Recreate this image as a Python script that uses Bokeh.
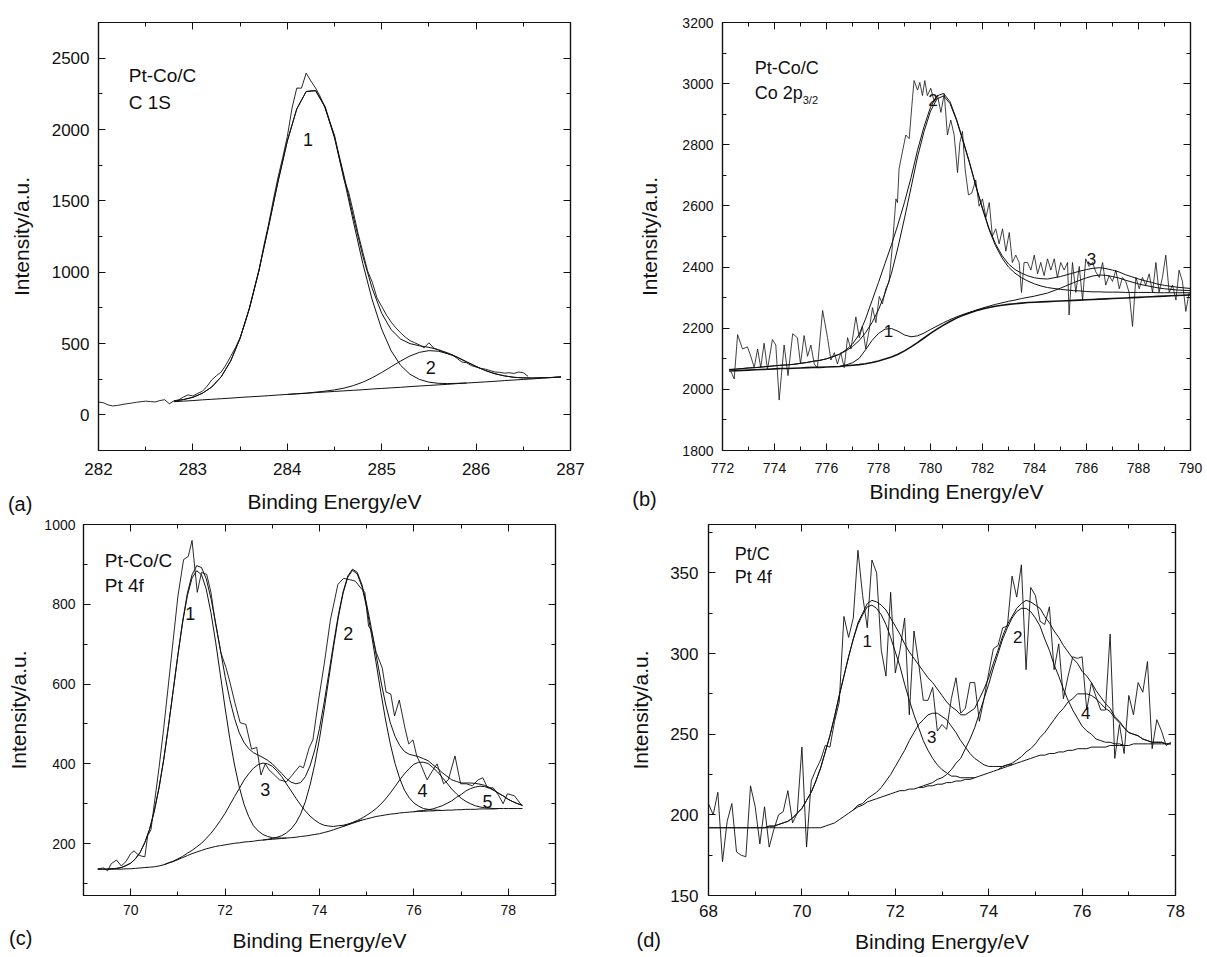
from bokeh.plotting import figure
from bokeh.models import LinearAxis, SingleIntervalTicker, Range1d, Label, CustomJSTickFormatter
from bokeh.layouts import row, column
from bokeh.embed import file_html
from bokeh.resources import INLINE

FONT = "Liberation Sans"
INK = "#111111"

# ---------------- (a) Pt-Co/C, C 1S ----------------
xa = [282.8, 282.9, 283.0, 283.1, 283.2, 283.3, 283.4, 283.5, 283.6, 283.7,
      283.8, 283.9, 284.0, 284.1, 284.2, 284.3, 284.4, 284.5, 284.6, 284.7,
      284.8, 284.9, 285.0, 285.1, 285.2, 285.3, 285.4, 285.5, 285.6, 285.7,
      285.8, 285.9, 286.0, 286.1, 286.2, 286.3, 286.4, 286.5, 286.6, 286.7,
      286.8, 286.9]
bg_a = [92, 96, 100, 105, 109, 113, 117, 122, 126, 130,
        134, 139, 143, 147, 151, 156, 160, 164, 168, 172,
        176, 181, 185, 189, 193, 198, 202, 206, 210, 214,
        219, 223, 227, 231, 235, 240, 244, 248, 252, 257,
        261, 265]
pk1_a = [5, 11, 23, 46, 86, 154, 260, 415, 624, 884,
         1182, 1491, 1776, 1996, 2115, 2115, 1996, 1776, 1491, 1182,
         884, 624, 415, 260, 154, 86, 46, 23, 11, 5,
         2] + [0] * 11
pk2_a = [0] * 13 + [1, 1, 3, 6, 11, 19, 33, 53, 79, 112,
                    148, 184, 215, 236, 244, 236, 215, 184, 148, 112,
                    79, 53, 33, 19, 11, 6, 3, 1, 1]
raw_xa = [282.0, 282.05, 282.1, 282.15, 282.2, 282.25, 282.3, 282.35, 282.4, 282.45,
          282.5, 282.55, 282.6, 282.65, 282.7, 282.75, 282.8, 282.85, 282.9, 282.95,
          283.0, 283.05, 283.1, 283.15, 283.2, 283.25, 283.3, 283.35, 283.4, 283.45,
          283.5, 283.55, 283.6, 283.65, 283.7, 283.75, 283.8, 283.85, 283.9, 283.95,
          284.0, 284.05, 284.1, 284.15, 284.2, 284.25, 284.3, 284.35, 284.4, 284.45,
          284.5, 284.55, 284.6, 284.65, 284.7, 284.75, 284.8, 284.85, 284.9, 284.95,
          285.0, 285.05, 285.1, 285.15, 285.2, 285.25, 285.3, 285.35, 285.4, 285.45,
          285.5, 285.55, 285.6, 285.65, 285.7, 285.75, 285.8, 285.85, 285.9, 285.95,
          286.0, 286.05, 286.1, 286.15, 286.2, 286.25, 286.3, 286.35, 286.4, 286.45,
          286.5, 286.55]
raw_ya = [90, 85, 70, 62, 66, 72, 78, 82, 88, 92,
          96, 93, 90, 100, 106, 78, 98, 105, 125, 140,
          132, 150, 165, 200, 245, 275, 300, 350, 410, 470,
          540, 640, 750, 880, 1010, 1180, 1330, 1500, 1660, 1800,
          1950, 2150, 2290, 2290, 2395, 2340, 2290, 2230, 2150, 2050,
          1960, 1800, 1650, 1560, 1420, 1270, 1140, 1010, 930, 820,
          760, 700, 650, 610, 575, 545, 520, 505, 490, 470,
          505, 468, 455, 440, 428, 420, 395, 370, 365, 345,
          335, 325, 320, 310, 300, 298, 292, 295, 290, 300,
          295, 270]

# ---------------- (b) Pt-Co/C, Co 2p3/2 ----------------
xb = [772.25, 772.5, 772.75, 773.0, 773.25, 773.5, 773.75, 774.0,
      774.25, 774.5, 774.75, 775.0, 775.25, 775.5, 775.75, 776.0,
      776.25, 776.5, 776.75, 777.0, 777.25, 777.5, 777.75, 778.0,
      778.25, 778.5, 778.75, 779.0, 779.25, 779.5, 779.75, 780.0,
      780.25, 780.5, 780.75, 781.0, 781.25, 781.5, 781.75, 782.0,
      782.25, 782.5, 782.75, 783.0, 783.25, 783.5, 783.75, 784.0,
      784.25, 784.5, 784.75, 785.0, 785.25, 785.5, 785.75, 786.0,
      786.25, 786.5, 786.75, 787.0, 787.25, 787.5, 787.75, 788.0,
      788.25, 788.5, 788.75, 789.0, 789.25, 789.5, 789.75, 790.0]
bg_b = [2060, 2061, 2062, 2063, 2064, 2065, 2066, 2067,
        2068, 2068, 2069, 2070, 2071, 2072, 2072, 2073,
        2074, 2075, 2077, 2079, 2081, 2084, 2088, 2093,
        2099, 2106, 2115, 2126, 2139, 2153, 2168, 2183,
        2197, 2210, 2222, 2233, 2242, 2250, 2257, 2263,
        2268, 2272, 2275, 2278, 2280, 2282, 2284, 2285,
        2286, 2287, 2288, 2289, 2290, 2291, 2292, 2293,
        2294, 2295, 2296, 2297, 2298, 2299, 2300, 2301,
        2302, 2303, 2304, 2305, 2306, 2307, 2308, 2309]
pk1_b = [0] * 18 + [3, 8, 20, 45, 72, 90, 98, 93, 75, 52,
                    33, 22, 16, 13, 10, 8, 6, 4, 3, 2, 1] + [0] * 33
pk2_b = [5, 5, 6, 7, 7, 8, 9, 10,
         11, 12, 13, 15, 17, 20, 23, 27,
         33, 40, 49, 61, 78, 101, 130, 167,
         215, 274, 350, 434, 520, 607, 675, 727,
         753, 750, 713, 647, 570, 490, 405, 327,
         255, 198, 155, 122, 100, 83, 70, 60,
         52, 46, 42, 38, 35, 32, 30, 27,
         25, 24, 22, 21, 20, 18, 17, 16,
         15, 14, 12, 11, 10, 9, 8, 7]
pk3_b = [0] * 37 + [1, 2, 3, 4, 6, 8, 10, 12, 15, 17,
                    20, 24, 28, 35, 42, 50, 58, 65, 72, 77,
                    79, 77, 72, 66, 58, 51, 44, 38, 33, 28,
                    24, 21, 18, 16, 14]
raw_xb = [772.32, 772.45, 772.58, 772.77, 772.96, 773.09, 773.22, 773.35, 773.47, 773.60,
          773.73, 773.92, 774.05, 774.18, 774.37, 774.52, 774.70, 774.88, 775.00, 775.14,
          775.27, 775.40, 775.53, 775.65, 775.85, 776.04, 776.17, 776.30, 776.42, 776.55,
          776.68, 776.81, 776.94, 777.13, 777.26, 777.38, 777.51, 777.64, 777.77, 777.90,
          778.03, 778.15, 778.28, 778.41, 778.54, 778.67, 778.73, 778.79, 778.92, 779.05,
          779.18, 779.31, 779.37, 779.50, 779.59, 779.69, 779.78, 779.88, 780.01, 780.14,
          780.27, 780.40, 780.53, 780.65, 780.78, 780.91, 781.04, 781.13, 781.23, 781.33,
          781.46, 781.59, 781.74, 781.87, 782.00, 782.13, 782.26, 782.38, 782.51, 782.64,
          782.77, 782.90, 783.03, 783.15, 783.28, 783.41, 783.50, 783.60, 783.73, 783.86,
          783.99, 784.12, 784.24, 784.37, 784.50, 784.63, 784.76, 784.88, 785.01, 785.14,
          785.27, 785.33, 785.46, 785.59, 785.72, 785.85, 785.97, 786.10, 786.23, 786.36,
          786.49, 786.62, 786.74, 786.87, 787.00, 787.13, 787.26, 787.38, 787.51, 787.64,
          787.77, 787.90, 788.03, 788.15, 788.28, 788.41, 788.54, 788.67, 788.79, 788.92,
          789.05, 789.18, 789.31, 789.44, 789.56, 789.69, 789.82, 789.95]
raw_yb = [2059, 2034, 2179, 2132, 2139, 2108, 2071, 2132, 2071, 2151,
          2065, 2163, 2145, 1965, 2145, 2045, 2182, 2169, 2083, 2176,
          2108, 2145, 2083, 2071, 2258, 2169, 2096, 2120, 2083, 2120,
          2071, 2169, 2132, 2237, 2169, 2206, 2132, 2194, 2267, 2218,
          2304, 2280, 2329, 2353, 2476, 2623, 2611, 2721, 2777, 2832,
          2820, 2955, 3010, 2979, 3004, 2961, 3010, 2961, 2985, 2942,
          2961, 2906, 2967, 2832, 2881, 2832, 2709, 2807, 2844, 2721,
          2636, 2642, 2685, 2599, 2623, 2562, 2611, 2501, 2525, 2476,
          2525, 2452, 2513, 2415, 2439, 2415, 2317, 2415, 2415, 2390,
          2439, 2378, 2415, 2372, 2427, 2390, 2427, 2366, 2415, 2390,
          2415, 2243, 2415, 2317, 2402, 2292, 2427, 2402, 2415, 2384,
          2366, 2415, 2341, 2372, 2353, 2390, 2329, 2366, 2353, 2317,
          2206, 2366, 2329, 2366, 2341, 2378, 2317, 2415, 2317, 2366,
          2439, 2317, 2341, 2292, 2390, 2353, 2255, 2317]

# ---------------- (c) Pt-Co/C, Pt 4f ----------------
xc = [69.3, 69.4, 69.5, 69.6, 69.7, 69.8, 69.9, 70.0, 70.1, 70.2,
      70.3, 70.4, 70.5, 70.6, 70.7, 70.8, 70.9, 71.0, 71.1, 71.2,
      71.3, 71.4, 71.5, 71.6, 71.7, 71.8, 71.9, 72.0, 72.1, 72.2,
      72.3, 72.4, 72.5, 72.6, 72.7, 72.8, 72.9, 73.0, 73.1, 73.2,
      73.3, 73.4, 73.5, 73.6, 73.7, 73.8, 73.9, 74.0, 74.1, 74.2,
      74.3, 74.4, 74.5, 74.6, 74.7, 74.8, 74.9, 75.0, 75.1, 75.2,
      75.3, 75.4, 75.5, 75.6, 75.7, 75.8, 75.9, 76.0, 76.1, 76.2,
      76.3, 76.4, 76.5, 76.6, 76.7, 76.8, 76.9, 77.0, 77.1, 77.2,
      77.3, 77.4, 77.5, 77.6, 77.7, 77.8, 77.9, 78.0, 78.1, 78.2,
      78.3]
bg_c = [136, 136, 136, 136, 136, 136, 137, 137, 138, 139,
        140, 141, 142, 144, 147, 151, 155, 160, 165, 170,
        175, 179, 183, 187, 190, 193, 195, 197, 199, 201,
        202, 204, 205, 206, 208, 209, 210, 211, 212, 213,
        214, 215, 216, 218, 219, 221, 223, 225, 228, 231,
        235, 239, 243, 247, 251, 255, 259, 262, 265, 268,
        270, 272, 274, 275, 277, 278, 279, 280, 281, 281,
        282, 282, 283, 283, 284, 284, 285, 285, 286, 286,
        286, 287, 287, 287, 287, 288, 288, 288, 288, 288,
        288]
pk1_c = [0, 0, 0, 1, 2, 4, 8, 14, 24, 39,
         63, 95, 140, 196, 264, 343, 428, 512, 589, 651,
         691, 705, 691, 651, 589, 512, 428, 343, 264, 196,
         140, 95, 63, 39, 24, 14, 8, 4, 2, 1] + [0] * 51
pk3_c = [0] * 15 + [1, 1, 2, 3, 6, 8, 13, 18, 26, 36,
                    48, 63, 79, 98, 117, 136, 155, 170, 183, 190,
                    193, 190, 183, 170, 155, 136, 117, 98, 79, 63,
                    48, 36, 26, 18, 13, 8, 6, 3, 2, 1,
                    1] + [0] * 35
pk2_c = [0] * 36 + [1, 2, 4, 7, 13, 22, 36, 56, 86, 126,
                    176, 238, 309, 385, 460, 529, 585, 621, 634, 621,
                    585, 529, 460, 385, 309, 238, 176, 126, 86, 56,
                    36, 22, 13, 7, 4, 2, 1] + [0] * 18
pk4_c = [0] * 53 + [1, 2, 3, 5, 9, 14, 20, 29, 40, 53,
                    68, 83, 97, 109, 119, 123, 123, 119, 109, 97,
                    83, 68, 53, 40, 29, 20, 14, 9, 5, 3,
                    2, 1] + [0] * 6
pk5_c = [0] * 68 + [1, 2, 3, 5, 8, 12, 17, 23, 31, 38,
                    46, 52, 56, 57, 56, 52, 46, 38, 31, 23,
                    17, 12, 8]
raw_xc = [69.31, 69.43, 69.51, 69.59, 69.70, 69.80, 69.90, 70.00, 70.07, 70.15,
          70.22, 70.30, 70.36, 70.43, 70.50, 70.60, 70.70, 70.80, 70.90, 71.00,
          71.12, 71.22, 71.30, 71.41, 71.50, 71.61, 71.70, 71.79, 71.91, 72.02,
          72.11, 72.21, 72.32, 72.44, 72.56, 72.67, 72.76, 72.85, 72.93, 73.02,
          73.15, 73.30, 73.41, 73.58, 73.66, 73.78, 73.86, 73.98, 74.10, 74.23,
          74.39, 74.51, 74.63, 74.76, 74.88, 74.96, 75.04, 75.10, 75.20, 75.33,
          75.41, 75.51, 75.59, 75.69, 75.81, 75.89, 75.98, 76.06, 76.14, 76.28,
          76.38, 76.49, 76.63, 76.73, 76.87, 76.99, 77.11, 77.24, 77.36, 77.46,
          77.56, 77.68, 77.80, 77.89, 77.98, 78.13, 78.29]
raw_yc = [137, 139, 132, 150, 159, 144, 155, 175, 182, 173,
          169, 167, 220, 235, 300, 390, 490, 600, 710, 820,
          912, 920, 960, 830, 880, 875, 830, 756, 679, 641,
          601, 552, 503, 499, 437, 441, 372, 400, 385, 375,
          360, 355, 370, 395, 390, 440, 460, 560, 650, 760,
          850, 865, 862, 858, 840, 830, 745, 735, 680, 640,
          580, 575, 520, 560, 490, 450, 460, 420, 400, 360,
          380, 400, 350, 360, 420, 350, 350, 345, 360, 365,
          340, 340, 320, 300, 325, 320, 295]

# ---------------- (d) Pt/C, Pt 4f ----------------
xd = [68.0, 68.1, 68.2, 68.3, 68.4, 68.5, 68.6, 68.7, 68.8, 68.9,
      69.0, 69.1, 69.2, 69.3, 69.4, 69.5, 69.6, 69.7, 69.8, 69.9,
      70.0, 70.1, 70.2, 70.3, 70.4, 70.5, 70.6, 70.7, 70.8, 70.9,
      71.0, 71.1, 71.2, 71.3, 71.4, 71.5, 71.6, 71.7, 71.8, 71.9,
      72.0, 72.1, 72.2, 72.3, 72.4, 72.5, 72.6, 72.7, 72.8, 72.9,
      73.0, 73.1, 73.2, 73.3, 73.4, 73.5, 73.6, 73.7, 73.8, 73.9,
      74.0, 74.1, 74.2, 74.3, 74.4, 74.5, 74.6, 74.7, 74.8, 74.9,
      75.0, 75.1, 75.2, 75.3, 75.4, 75.5, 75.6, 75.7, 75.8, 75.9,
      76.0, 76.1, 76.2, 76.3, 76.4, 76.5, 76.6, 76.7, 76.8, 76.9,
      77.0, 77.1, 77.2, 77.3, 77.4, 77.5, 77.6, 77.7, 77.8, 77.9]
bg_d = [192] * 25 + [193, 194, 195, 197, 199,
                     201, 203, 205, 206, 208, 209, 210, 211, 212, 213,
                     214, 215, 215, 216, 216, 217, 217, 218, 218, 219,
                     219, 220, 220, 221, 221, 222, 222, 223, 224, 225,
                     226, 227, 228, 229, 230, 231, 232, 233, 234, 235,
                     236, 237, 237, 238, 238, 239, 239, 240, 240, 241,
                     241, 241, 242, 242, 242, 242, 243, 243, 243, 243,
                     243, 244, 244, 244, 244, 244, 244, 244, 244, 244]
pk1_d = [0] * 13 + [1, 1, 2, 3, 4, 6, 9, 12, 17, 22,
                    29, 37, 46, 55, 66, 77, 87, 97, 106, 113,
                    118, 121, 121, 118, 113, 106, 97, 87, 77, 66,
                    55, 46, 37, 29, 22, 17, 12, 9, 6, 4,
                    3, 2, 1, 1] + [0] * 43
pk3_d = [0] * 32 + [1, 1, 2, 3, 4, 6, 9, 12, 16, 20,
                    25, 30, 35, 39, 42, 44, 45, 44, 42, 39,
                    35, 30, 25, 20, 16, 12, 9, 6, 4, 3,
                    2, 1, 1] + [0] * 35
pk2_d = [0] * 46 + [1, 1, 2, 3, 4, 5, 8, 11, 14, 19,
                    25, 31, 39, 47, 55, 64, 72, 80, 86, 91,
                    94, 95, 94, 91, 86, 80, 72, 64, 55, 47,
                    39, 31, 25, 19, 14, 11, 8, 5, 4, 3,
                    2, 1, 1] + [0] * 11
pk4_d = [0] * 63 + [1, 1, 1, 2, 3, 5, 6, 8, 11, 14,
                    17, 21, 24, 27, 30, 32, 34, 34, 34, 32,
                    30, 27, 24, 21, 17, 14, 11, 8, 6, 5,
                    3, 2, 1, 1, 1] + [0] * 2
raw_yd = [207, 200, 214, 171, 196, 207, 177, 175, 174, 218,
          205, 182, 205, 180, 191, 200, 202, 215, 195, 201,
          242, 180, 221, 228, 234, 243, 242, 258, 270, 323,
          310, 322, 364, 336, 316, 358, 350, 302, 286, 338,
          288, 302, 322, 262, 314, 294, 271, 271, 279, 252,
          256, 253, 272, 285, 263, 266, 282, 282, 258, 272,
          288, 303, 305, 316, 317, 348, 335, 355, 290, 341,
          336, 320, 318, 329, 290, 306, 272, 286, 298, 297,
          298, 265, 282, 273, 265, 265, 312, 235, 256, 238,
          274, 262, 282, 276, 295, 241, 259, 252, 243, 245]

for xs, arrs in ((xa, (bg_a, pk1_a, pk2_a)), (xb, (bg_b, pk1_b, pk2_b, pk3_b)),
                 (xc, (bg_c, pk1_c, pk2_c, pk3_c, pk4_c, pk5_c)),
                 (xd, (bg_d, pk1_d, pk2_d, pk3_d, pk4_d, raw_yd))):
    for a in arrs:
        assert len(a) == len(xs), (len(a), len(xs))
assert len(raw_xa) == len(raw_ya)
assert len(raw_xb) == len(raw_yb)
assert len(raw_xc) == len(raw_yc)


def style_axis(ax, tick_px):
    ax.axis_line_color = INK
    ax.axis_line_width = 1.2
    ax.major_tick_line_color = INK
    ax.minor_tick_line_color = INK
    ax.major_tick_in = 7
    ax.major_tick_out = 0
    ax.minor_tick_in = 4
    ax.minor_tick_out = 0
    ax.major_label_text_font = FONT
    ax.major_label_text_font_size = f"{tick_px}px"
    ax.major_label_text_color = INK
    ax.axis_label_text_font = FONT
    ax.axis_label_text_font_size = "21px"
    ax.axis_label_text_font_style = "normal"
    ax.axis_label_text_color = INK


def make_panel(width, height, xr, yr, xint, yint, borders, tick_px, xstd, xls, ystd, yls):
    p = figure(width=width, height=height, x_range=Range1d(*xr), y_range=Range1d(*yr),
               output_backend="svg", toolbar_location=None,
               min_border_left=borders[0], min_border_right=borders[1],
               min_border_top=borders[2], min_border_bottom=borders[3],
               background_fill_color="white", border_fill_color="white")
    p.grid.visible = False
    p.outline_line_color = INK
    p.outline_line_width = 1.2
    p.xaxis.ticker = SingleIntervalTicker(interval=xint, num_minor_ticks=2)
    p.yaxis.ticker = SingleIntervalTicker(interval=yint, num_minor_ticks=2)
    style_axis(p.xaxis[0], tick_px)
    style_axis(p.yaxis[0], tick_px)
    p.xaxis.axis_label = "Binding Energy/eV"
    p.yaxis.axis_label = "Intensity/a.u."
    p.xaxis.major_label_standoff = xstd
    p.xaxis.axis_label_standoff = xls
    p.yaxis.major_label_standoff = ystd
    p.yaxis.axis_label_standoff = yls
    top = LinearAxis(ticker=SingleIntervalTicker(interval=xint, num_minor_ticks=2),
                     formatter=CustomJSTickFormatter(code="return ''"))
    right = LinearAxis(ticker=SingleIntervalTicker(interval=yint, num_minor_ticks=2),
                       formatter=CustomJSTickFormatter(code="return ''"))
    for ax in (top, right):
        style_axis(ax, 0)
        ax.major_label_standoff = 0
    p.add_layout(top, "above")
    p.add_layout(right, "right")
    return p


def add_total(p, x, bg, comp, width=1.0):
    idx = [i for i, v in enumerate(comp) if v > 0]
    i0 = max(idx[0] - 1, 0)
    i1 = min(idx[-1] + 2, len(x))
    p.line(x[i0:i1], [bg[i] + comp[i] for i in range(i0, i1)], line_color=INK, line_width=width)


def add_envelope(p, x, bg, comps):
    env = [bg[i] + sum(c[i] for c in comps) for i in range(len(x))]
    p.line(x, env, line_color=INK, line_width=1.0)


def text(p, x, y, s, size, align="center", x_offset=0, y_offset=0):
    p.add_layout(Label(x=x, y=y, text=s, text_font=FONT, text_font_size=f"{size}px",
                       text_color=INK, text_align=align, text_baseline="middle",
                       x_offset=x_offset, y_offset=y_offset))


def letter(p, x, y, s, side):
    # placed in a side panel so that it is not clipped to the plot frame
    p.add_layout(Label(x=x, y=y, text=s, text_font=FONT, text_font_size="20px",
                       text_color=INK, text_align="center", text_baseline="middle"), side)


# ---- panel (a)
pa = make_panel(610, 515, (282, 287), (-250, 2750), 1, 500, (98, 40, 14, 65), 17, 12, 12, 9, 16)
pa.line(xa, bg_a, line_color=INK, line_width=1.0)
add_total(pa, xa, bg_a, pk1_a)
add_total(pa, xa, bg_a, pk2_a)
add_envelope(pa, xa, bg_a, [pk1_a, pk2_a])
pa.line(raw_xa, raw_ya, line_color=INK, line_width=0.9)
text(pa, 284.22, 1927, "1", 18)
text(pa, 285.52, 330, "2", 18)
text(pa, 282.32, 2376, "Pt-Co/C", 19, "left")
text(pa, 282.32, 2191, "C 1S", 19, "left")
letter(pa, 281.17, -628, "(a)", "right")

# ---- panel (b)
pb = make_panel(597, 515, (772, 790), (1800, 3200), 2, 200, (112, 17, 22, 54), 14, 12, 4, 9, 18)
pb.line(xb, bg_b, line_color=INK, line_width=1.6)
add_total(pb, xb, bg_b, pk1_b)
add_total(pb, xb, bg_b, pk3_b)
add_total(pb, xb, bg_b, pk2_b)
add_envelope(pb, xb, bg_b, [pk1_b, pk2_b, pk3_b])
pb.line(raw_xb, raw_yb, line_color=INK, line_width=0.8)
text(pb, 778.38, 2192, "1", 17)
text(pb, 780.1, 2946, "2", 17)
text(pb, 786.19, 2425, "3", 17)
text(pb, 773.24, 3050, "Pt-Co/C", 18, "left")
text(pb, 773.24, 2971, "Co 2p", 18, "left")
text(pb, 773.24, 2971, "3/2", 11, "left", x_offset=48, y_offset=-7)
letter(pb, 769.0, 1640, "(b)", "left")

# ---- panel (c)
pc = make_panel(620, 442, (69, 79), (70, 1000), 2, 200, (83, 65, 9, 60), 14, 9, 11, 8, 11)
pc.line(xc, bg_c, line_color=INK, line_width=1.0)
for comp in (pk1_c, pk3_c, pk2_c, pk4_c, pk5_c):
    add_total(pc, xc, bg_c, comp)
add_envelope(pc, xc, bg_c, [pk1_c, pk2_c, pk3_c, pk4_c, pk5_c])
pc.line(raw_xc, raw_yc, line_color=INK, line_width=0.9)
text(pc, 71.26, 777, "1", 18)
text(pc, 74.61, 726, "2", 18)
text(pc, 72.85, 335, "3", 18)
text(pc, 76.18, 333, "4", 18)
text(pc, 77.56, 306, "5", 18)
text(pc, 69.45, 910, "Pt-Co/C", 19, "left")
text(pc, 69.45, 846, "Pt 4f", 19, "left")
letter(pc, 67.67, -37, "(c)", "right")

# ---- panel (d)
pd = make_panel(587, 442, (68, 78), (150, 380), 2, 50, (88, 32, 1, 62), 17, 9, 10, 10, 15)
pd.line(xd, bg_d, line_color=INK, line_width=1.0)
for comp in (pk1_d, pk3_d, pk2_d, pk4_d):
    add_total(pd, xd, bg_d, comp)
add_envelope(pd, xd, bg_d, [pk1_d, pk2_d, pk3_d, pk4_d])
pd.line(xd, raw_yd, line_color=INK, line_width=0.9)
text(pd, 71.4, 308, "1", 17)
text(pd, 74.62, 310, "2", 17)
text(pd, 72.78, 248, "3", 17)
text(pd, 76.08, 263, "4", 17)
text(pd, 68.56, 361.5, "Pt/C", 18, "left")
text(pd, 68.56, 347.4, "Pt 4f", 18, "left")
letter(pd, 66.72, 122.7, "(d)", "right")

layout = column(row(pa, pb), row(pc, pd))
open("out.html", "w").write(file_html(layout, INLINE))
